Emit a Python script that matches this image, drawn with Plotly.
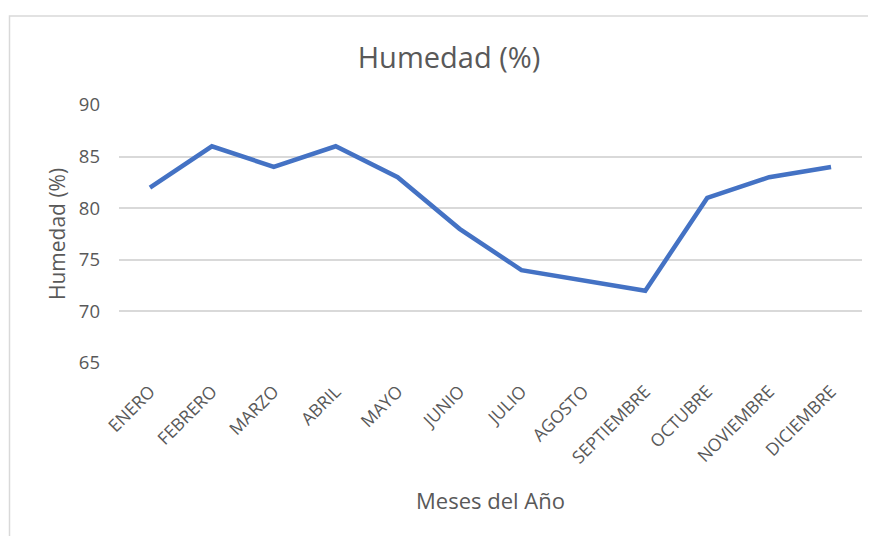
import plotly.graph_objects as go

meses = ["ENERO", "FEBRERO", "MARZO", "ABRIL", "MAYO", "JUNIO", "JULIO",
         "AGOSTO", "SEPTIEMBRE", "OCTUBRE", "NOVIEMBRE", "DICIEMBRE"]
humedad = [82, 86, 84, 86, 83, 78, 74, 73, 72, 81, 83, 84]
y_ticks = [65, 70, 75, 80, 85, 90]

# page body has an 8px margin: figure coordinates = screen - 8
W, H = 868, 528
L, R, T, B = 111, 14, 97, 173
PW, PH = W - L - R, H - T - B

fig = go.Figure()
fig.add_trace(go.Scatter(x=meses, y=humedad, mode="lines",
                         line=dict(color="#4472C4", width=4.5), showlegend=False))

font = "Open Sans, Noto Sans, sans-serif"
grey = "#595959"
fig.update_layout(
    width=W, height=H,
    margin=dict(l=L, r=R, t=T, b=B),
    paper_bgcolor="white", plot_bgcolor="white",
    font=dict(family=font, color=grey, size=18),
    title=dict(text="Humedad (%)", x=441 / W, xref="container", xanchor="center",
               y=1 - 50 / H, yref="container", yanchor="middle",
               font=dict(size=29, color=grey, family=font)),
    xaxis=dict(type="category", tickangle=-45, showgrid=False, showline=False,
               ticks="", tickfont=dict(size=17.5), range=[-0.5, 11.5],
               ticklabelstandoff=14),
    yaxis=dict(range=[65, 90], tickvals=y_ticks, showgrid=True, gridcolor="#D9D9D9",
               gridwidth=1.5, zeroline=False, showline=False, ticks="",
               tickfont=dict(size=18.5), ticklabelstandoff=18),
    annotations=[
        dict(text="Meses del Año", xref="paper", yref="paper", x=0.5,
             y=-(492 - (H - B)) / PH, xanchor="center", yanchor="middle",
             showarrow=False, font=dict(size=22, color=grey)),
        dict(text="Humedad (%)", xref="paper", yref="paper",
             x=-(L - 49) / PW, y=1 - (226 - T) / PH,
             xanchor="center", yanchor="middle", textangle=-90,
             showarrow=False, font=dict(size=21, color=grey)),
    ],
    shapes=[
        dict(type="rect", xref="paper", yref="paper",
             x0=-(L - 1.5) / PW, x1=(W + 20 - L) / PW,
             y0=-(H + 20 - (H - B)) / PH, y1=1 + (T - 8) / PH,
             line=dict(color="#D9D9D9", width=1.5), fillcolor="rgba(0,0,0,0)",
             layer="below"),
    ],
)

fig.write_html("out.html")
